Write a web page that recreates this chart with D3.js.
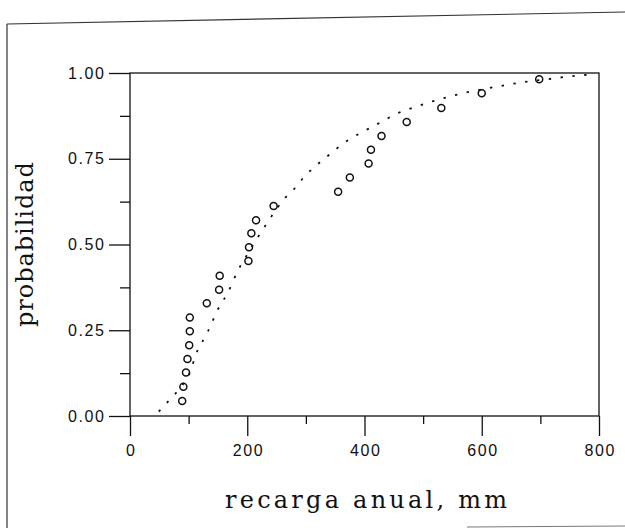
<!DOCTYPE html>
<html>
<head>
<meta charset="utf-8">
<script src="https://cdn.jsdelivr.net/npm/d3@7/dist/d3.min.js"></script>
<style>
  html, body { margin: 0; padding: 0; background: #fff; }
  svg { display: block; }
</style>
</head>
<body>
<svg id="chart" width="625" height="528"></svg>
<script>
// ---- data ----
const obsRecarga = [89, 91, 95.5, 98, 101, 102, 102, 131, 152, 153, 202, 203, 207, 215, 245,
                    355, 375, 407, 411, 429, 472, 531, 600, 698];
const obsProb    = [0.044, 0.085, 0.127, 0.166, 0.206, 0.247, 0.287, 0.329, 0.368, 0.409,
                    0.452, 0.492, 0.533, 0.571, 0.612, 0.654, 0.695, 0.736, 0.776, 0.816,
                    0.857, 0.898, 0.941, 0.982];
const fitRecarga = [49, 68, 87, 104, 112, 122, 133, 143, 153, 166, 175, 185, 198, 211, 224, 237,
                    264, 281, 297, 316, 335, 352, 371, 392, 422, 440, 460, 483, 523, 568, 625,
                    669, 722, 744, 767, 790];
const fitProb    = [0.013, 0.048, 0.085, 0.134, 0.178, 0.212, 0.247, 0.285, 0.321, 0.356, 0.39,
                    0.427, 0.465, 0.502, 0.537, 0.571, 0.635, 0.664, 0.697, 0.728, 0.755, 0.779,
                    0.803, 0.824, 0.851, 0.868, 0.885, 0.899, 0.921, 0.941, 0.96, 0.973, 0.984,
                    0.989, 0.993, 0.996];
const xMajorTicks = [0, 200, 400, 600, 800];
const xMinorTicks = [100, 300, 500, 700];
const yMajorTicks = [0, 0.25, 0.5, 0.75, 1.0];
const yMinorTicks = [0.125, 0.375, 0.625, 0.875];
const xTitle = "recarga anual, mm";
const yTitle = "probabilidad";

// ---- layout ----
const svg = d3.select("#chart");
const L = 130, R = 599, T = 73, B = 416;
const x = d3.scaleLinear().domain([0, 800]).range([L, R]);
const y = d3.scaleLinear().domain([0, 1]).range([B, T]);
const ink = "#111";

// scanned-page border
svg.append("line").attr("x1", 7).attr("y1", 24).attr("x2", 625).attr("y2", 12)
  .attr("stroke", "#333").attr("stroke-width", 1.2);
svg.append("line").attr("x1", 7).attr("y1", 24).attr("x2", 7).attr("y2", 528)
  .attr("stroke", "#333").attr("stroke-width", 1.2);
svg.append("line").attr("x1", 467).attr("y1", 527).attr("x2", 625).attr("y2", 526)
  .attr("stroke", "#777").attr("stroke-width", 1);

// axes
const tickFont = "'Liberation Sans', Arial, sans-serif";
const yAxis = svg.append("g").attr("transform", `translate(${L},0)`)
  .call(d3.axisLeft(y).tickValues(yMajorTicks).tickSize(21).tickPadding(5)
        .tickFormat(d3.format(".2f")));
const xAxis = svg.append("g").attr("transform", `translate(0,${B})`)
  .call(d3.axisBottom(x).tickValues(xMajorTicks).tickSize(20).tickPadding(9)
        .tickFormat(d3.format("d")));
const yMinor = svg.append("g").attr("transform", `translate(${L},0)`)
  .call(d3.axisLeft(y).tickValues(yMinorTicks).tickSize(10).tickFormat(""));
const xMinor = svg.append("g").attr("transform", `translate(0,${B})`)
  .call(d3.axisBottom(x).tickValues(xMinorTicks).tickSize(8).tickFormat(""));

[yAxis, xAxis, yMinor, xMinor].forEach(g => {
  g.select(".domain").remove();
  g.selectAll("line").attr("stroke", ink).attr("stroke-width", 1.3);
  g.selectAll("text").attr("fill", ink).style("font-family", tickFont)
    .style("font-size", "16px").style("letter-spacing", "1.6px");
});
yAxis.selectAll("text").attr("dx", "1.6px");
xAxis.selectAll("text").attr("dx", "0.8px");

// frame box
svg.append("rect").attr("x", L).attr("y", T).attr("width", R - L).attr("height", B - T)
  .attr("fill", "none").attr("stroke", ink).attr("stroke-width", 1.3);

// fitted curve (dotted)
const line = d3.line().x(d => x(d[0])).y(d => y(d[1])).curve(d3.curveMonotoneX);
svg.append("path").datum(fitRecarga.map((v, i) => [v, fitProb[i]]))
  .attr("d", line).attr("fill", "none").attr("stroke", ink)
  .attr("stroke-width", 1.8).attr("stroke-dasharray", "2.4 9.5");

// observed points
svg.append("g").selectAll("circle").data(obsRecarga.map((v, i) => [v, obsProb[i]]))
  .join("circle").attr("cx", d => x(d[0])).attr("cy", d => y(d[1])).attr("r", 3.5)
  .attr("fill", "none").attr("stroke", ink).attr("stroke-width", 1.5);

// titles
const titleFont = "'DejaVu Serif', serif";
svg.append("text").attr("x", 225).attr("y", 508).text(xTitle)
  .attr("fill", ink).style("font-family", titleFont).style("font-size", "24px")
  .attr("textLength", 282).attr("lengthAdjust", "spacing");
svg.append("text").attr("transform", "translate(33,327) rotate(-90)").text(yTitle)
  .attr("fill", ink).style("font-family", titleFont).style("font-size", "24px")
  .attr("textLength", 165).attr("lengthAdjust", "spacing");
</script>
</body>
</html>
